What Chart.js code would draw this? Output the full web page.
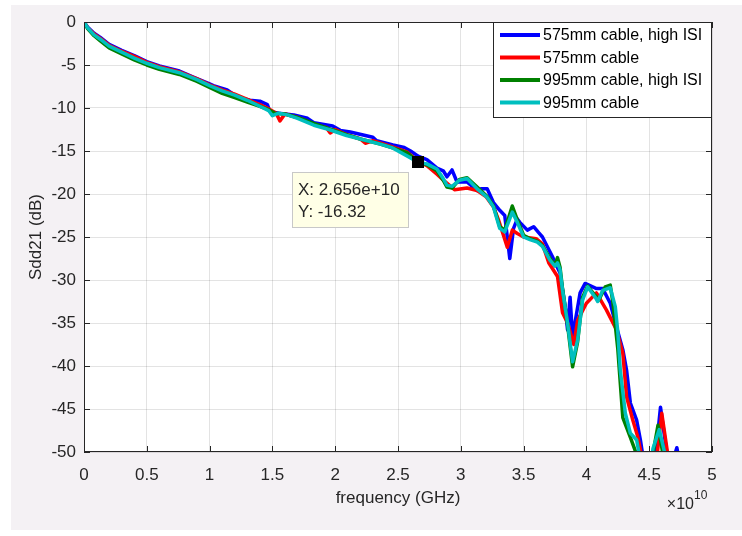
<!DOCTYPE html>
<html>
<head>
<meta charset="utf-8">
<script src="https://cdn.jsdelivr.net/npm/chart.js@4.4.1/dist/chart.umd.min.js"></script>
<style>
  html, body { margin: 0; padding: 0; background: #fff; }
  canvas { display: block; }
</style>
</head>
<body>
<canvas id="sddChart" width="742" height="536"></canvas>
<script>
// frequencies are in units of 1e10 Hz (axis shows "x10^10")
const xTicks = [0, 0.5, 1, 1.5, 2, 2.5, 3, 3.5, 4, 4.5, 5];
const yTicks = [0, -5, -10, -15, -20, -25, -30, -35, -40, -45, -50];

const seriesNames = ["575mm cable, high ISI", "575mm cable", "995mm cable, high ISI", "995mm cable"];
const seriesColors = ["#0000ff", "#ff0000", "#008000", "#00bfbf"];

// 575mm cable, high ISI
const freqBlue = [0, 0.03, 0.08, 0.13, 0.2, 0.3, 0.4, 0.5, 0.6, 0.76, 0.87, 1.0, 1.03, 1.14, 1.22, 1.32, 1.4, 1.46, 1.48, 1.55, 1.67, 1.78, 1.83, 1.98, 2.04, 2.12, 2.3, 2.33, 2.46, 2.55, 2.6, 2.66, 2.73, 2.81, 2.86, 2.89, 2.93, 2.97, 3.05, 3.13, 3.16, 3.21, 3.26, 3.31, 3.35, 3.39, 3.42, 3.45, 3.47, 3.53, 3.58, 3.62, 3.65, 3.73, 3.79, 3.83, 3.85, 3.87, 3.89, 3.95, 3.99, 4.08, 4.13, 4.19, 4.24, 4.29, 4.32, 4.35, 4.40, 4.43, 4.45, 4.5, 4.55, 4.59, 4.63, 4.66, 4.70, 4.72, 4.74, 4.76];
const sddBlue = [0, -0.6, -1.3, -1.8, -2.6, -3.3, -3.9, -4.6, -5.1, -5.7, -6.4, -7.2, -7.4, -7.9, -8.7, -9.1, -9.2, -9.6, -10.4, -10.6, -10.8, -11.2, -11.7, -12.1, -12.6, -12.8, -13.4, -13.8, -14.3, -14.6, -15.0, -15.6, -16.0, -17.0, -17.3, -18.0, -17.2, -18.6, -18.6, -19.6, -19.4, -19.4, -21.0, -21.9, -22.5, -27.5, -24.0, -22.9, -23.3, -24.2, -23.8, -24.5, -25.0, -27.3, -29.2, -33.0, -35.8, -32.0, -36.6, -31.5, -30.4, -31.0, -31.0, -32.7, -35.5, -38.1, -40.5, -44.3, -46.3, -48.6, -50.5, -54, -50.5, -44.8, -49.0, -52, -50.5, -49.5, -51, -55];

// 575mm cable
const freqRed = [0, 0.03, 0.08, 0.13, 0.2, 0.3, 0.4, 0.5, 0.6, 0.76, 0.9, 1.0, 1.1, 1.2, 1.3, 1.4, 1.47, 1.53, 1.56, 1.6, 1.7, 1.83, 1.93, 1.96, 2.0, 2.09, 2.2, 2.24, 2.3, 2.45, 2.57, 2.66, 2.73, 2.81, 2.87, 2.95, 3.05, 3.13, 3.2, 3.26, 3.3, 3.37, 3.41, 3.45, 3.5, 3.6, 3.65, 3.7, 3.77, 3.81, 3.85, 3.9, 3.93, 4.0, 4.08, 4.16, 4.24, 4.29, 4.32, 4.37, 4.41, 4.44, 4.5, 4.55, 4.6, 4.65, 4.68];
const sddRed = [0, -0.7, -1.4, -1.9, -2.7, -3.4, -4.0, -4.7, -5.2, -5.8, -6.6, -7.3, -7.9, -8.4, -9.0, -9.6, -10.1, -10.6, -11.5, -10.7, -11.1, -11.9, -12.3, -12.9, -12.5, -13.1, -13.6, -14.1, -13.8, -14.5, -15.1, -16.2, -16.7, -17.7, -18.5, -19.5, -19.3, -19.6, -20.3, -21.5, -23.0, -26.2, -24.2, -24.6, -25.0, -25.2, -25.8, -28.0, -29.6, -33.8, -35.0, -37.5, -34.7, -32.7, -31.5, -33.5, -35.8, -38.5, -43.6, -46.3, -48.3, -50.5, -55, -52, -45.5, -50.5, -55];

// 995mm cable, high ISI
const freqGreen = [0, 0.03, 0.08, 0.13, 0.2, 0.3, 0.4, 0.5, 0.6, 0.76, 0.9, 1.0, 1.1, 1.2, 1.3, 1.4, 1.47, 1.52, 1.6, 1.7, 1.83, 1.95, 2.09, 2.2, 2.36, 2.45, 2.57, 2.66, 2.73, 2.81, 2.86, 2.89, 2.93, 2.99, 3.05, 3.13, 3.21, 3.26, 3.31, 3.35, 3.41, 3.45, 3.5, 3.55, 3.61, 3.65, 3.71, 3.75, 3.77, 3.79, 3.81, 3.85, 3.89, 3.93, 3.97, 4.01, 4.07, 4.1, 4.15, 4.19, 4.21, 4.25, 4.29, 4.35, 4.40, 4.44, 4.5, 4.52, 4.57, 4.61, 4.65];
const sddGreen = [0, -0.8, -1.6, -2.2, -3.0, -3.7, -4.4, -5.0, -5.5, -6.1, -6.9, -7.6, -8.3, -8.8, -9.3, -9.8, -10.2, -10.6, -10.7, -11.1, -11.8, -12.4, -13.1, -13.6, -14.2, -14.6, -15.2, -16.2, -16.6, -17.3, -18.4, -19.2, -19.3, -18.3, -18.1, -19.2, -20.3, -21.4, -23.8, -24.2, -21.4, -23.0, -24.8, -25.2, -25.5, -26.0, -27.5, -28.3, -27.4, -28.5, -31.0, -35.2, -40.1, -37.2, -32.0, -30.7, -31.8, -32.3, -30.8, -30.6, -32.5, -38.0, -46.0, -48.3, -50.3, -53, -55, -51, -46.9, -50.3, -55];

// 995mm cable
const freqCyan = [0, 0.03, 0.08, 0.13, 0.2, 0.3, 0.4, 0.5, 0.6, 0.76, 0.9, 1.0, 1.1, 1.2, 1.3, 1.4, 1.47, 1.5, 1.55, 1.62, 1.7, 1.83, 1.95, 2.09, 2.2, 2.36, 2.45, 2.6, 2.66, 2.73, 2.81, 2.86, 2.89, 2.93, 2.99, 3.05, 3.13, 3.21, 3.26, 3.31, 3.35, 3.41, 3.45, 3.5, 3.55, 3.61, 3.65, 3.71, 3.75, 3.77, 3.79, 3.81, 3.85, 3.89, 3.93, 3.97, 4.01, 4.07, 4.09, 4.13, 4.19, 4.23, 4.25, 4.27, 4.31, 4.35, 4.40, 4.43, 4.47, 4.51, 4.53, 4.58, 4.63, 4.67];
const sddCyan = [0, -0.7, -1.5, -2.0, -2.8, -3.5, -4.2, -4.8, -5.3, -5.9, -6.7, -7.4, -8.0, -8.5, -9.1, -9.8, -10.3, -10.9, -10.6, -10.8, -11.2, -12.0, -12.5, -13.2, -13.6, -14.2, -14.6, -15.8, -16.3, -16.5, -17.1, -18.2, -19.0, -19.1, -18.4, -18.2, -19.4, -20.4, -21.5, -24.0, -24.4, -22.1, -23.3, -25.0, -25.3, -25.6, -26.1, -27.7, -28.4, -28.0, -28.8, -31.2, -35.0, -39.5, -37.0, -32.3, -30.8, -32.0, -32.5, -31.2, -30.9, -33.1, -36.0, -40.5, -45.5, -47.8, -48.6, -51, -55, -52, -49.6, -47.4, -50.5, -55];

// data tip
const tipFreq = 2.656;
const tipSdd = -16.32;

const freqLists = [freqBlue, freqRed, freqGreen, freqCyan];
const sddLists = [sddBlue, sddRed, sddGreen, sddCyan];

const FONT = "'Liberation Sans', Arial, Helvetica, sans-serif";
const AXIS_COLOR = "#262626";

function toPoints(xs, ys) {
  return xs.map((x, i) => ({ x: x, y: ys[i] }));
}

const datasets = seriesNames.map((name, i) => ({
  label: name,
  data: toPoints(freqLists[i], sddLists[i]),
  borderColor: seriesColors[i],
  backgroundColor: seriesColors[i],
  borderWidth: 3.5,
  pointRadius: 0,
  tension: 0,
  borderJoinStyle: "round",
  order: 4 - i, // last series drawn on top, like matlab
}));

// figure background: gray panel with white axes
const backgroundPlugin = {
  id: "figureBg",
  beforeDraw(chart) {
    const ctx = chart.ctx;
    const a = chart.chartArea;
    ctx.save();
    ctx.fillStyle = "#ffffff";
    ctx.fillRect(0, 0, chart.width, chart.height);
    ctx.fillStyle = "#f4f1f4";
    ctx.fillRect(11, 5, chart.width - 11, 525);
    ctx.fillStyle = "#ffffff";
    ctx.fillRect(a.left, a.top, a.right - a.left, a.bottom - a.top);
    ctx.restore();
  },
};

// box, inward ticks, legend, data tip, exponent
const decorPlugin = {
  id: "decor",
  afterDatasetsDraw(chart) {
    const ctx = chart.ctx;
    const a = chart.chartArea;
    const xs = chart.scales.x;
    const ys = chart.scales.y;
    ctx.save();

    // axes box + ticks on all sides
    ctx.strokeStyle = AXIS_COLOR;
    ctx.lineWidth = 1;
    ctx.strokeRect(a.left + 0.5, a.top + 0.5, a.right - a.left - 1, a.bottom - a.top - 1);
    const tl = 6;
    ctx.beginPath();
    xTicks.forEach((v) => {
      const px = Math.round(xs.getPixelForValue(v)) + 0.5;
      ctx.moveTo(px, a.bottom); ctx.lineTo(px, a.bottom - tl);
      ctx.moveTo(px, a.top); ctx.lineTo(px, a.top + tl);
    });
    yTicks.forEach((v) => {
      const py = Math.round(ys.getPixelForValue(v)) + 0.5;
      ctx.moveTo(a.left, py); ctx.lineTo(a.left + tl, py);
      ctx.moveTo(a.right, py); ctx.lineTo(a.right - tl, py);
    });
    ctx.stroke();

    // legend
    const lx = 493, ly = 22, lw = 219, lh = 96;
    ctx.fillStyle = "#ffffff";
    ctx.fillRect(lx, ly, lw, lh);
    ctx.strokeStyle = "#262626";
    ctx.strokeRect(lx + 0.5, ly + 0.5, lw - 1, lh - 1);
    ctx.font = "16px " + FONT;
    ctx.textBaseline = "middle";
    ctx.textAlign = "left";
    chart.data.datasets.forEach((ds, i) => {
      const rowY = ly + 13 + i * 22.5;
      ctx.strokeStyle = ds.borderColor;
      ctx.lineWidth = 4;
      ctx.beginPath();
      ctx.moveTo(lx + 7, rowY);
      ctx.lineTo(lx + 47, rowY);
      ctx.stroke();
      ctx.fillStyle = "#000000";
      ctx.fillText(ds.label, lx + 50, rowY + 1);
    });

    // data tip
    const mx = xs.getPixelForValue(tipFreq);
    const my = ys.getPixelForValue(tipSdd);
    const bx = Math.round(mx) - 126, by = Math.round(my) + 10;
    ctx.fillStyle = "#ffffe6";
    ctx.fillRect(bx, by, 117, 56);
    ctx.strokeStyle = "#c8c8c8";
    ctx.lineWidth = 1;
    ctx.strokeRect(bx + 0.5, by + 0.5, 116, 55);
    ctx.fillStyle = "#262626";
    ctx.font = "17px " + FONT;
    ctx.fillText("X: " + (tipFreq * 1e10).toExponential(3), bx + 6, by + 18);
    ctx.fillText("Y: " + tipSdd.toFixed(2), bx + 6, by + 40);
    ctx.fillStyle = "#000000";
    ctx.fillRect(Math.round(mx) - 6, Math.round(my) - 6, 12, 12);

    // x10^10 exponent label
    ctx.fillStyle = AXIS_COLOR;
    ctx.textAlign = "right";
    ctx.font = "16px " + FONT;
    ctx.fillText("\u00d710", a.right - 18, a.bottom + 53);
    ctx.textAlign = "left";
    ctx.font = "12px " + FONT;
    ctx.fillText("10", a.right - 18, a.bottom + 44);

    ctx.restore();
  },
};

const ctx = document.getElementById("sddChart").getContext("2d");
const sddChart = new Chart(ctx, {
  type: "line",
  data: { datasets: datasets },
  options: {
    responsive: false,
    animation: false,
    devicePixelRatio: 1,
    layout: { padding: { left: 0, right: 30, top: 22, bottom: 0 } },
    plugins: {
      legend: { display: false },
      tooltip: { enabled: false },
    },
    scales: {
      x: {
        type: "linear",
        min: 0,
        max: 5,
        afterFit(scale) { scale.height = 84; },
        afterBuildTicks(scale) { scale.ticks = xTicks.map((v) => ({ value: v })); },
        grid: { color: "rgba(38,38,38,0.13)", drawTicks: false },
        border: { display: false },
        ticks: {
          color: AXIS_COLOR,
          padding: 13,
          maxRotation: 0,
          font: { family: FONT, size: 17 },
          callback: (v) => String(v),
        },
        title: {
          display: true,
          text: "frequency (GHz)",
          color: AXIS_COLOR,
          font: { family: FONT, size: 17 },
          padding: { top: 0, bottom: 27 },
        },
      },
      y: {
        type: "linear",
        min: -50,
        max: 0,
        afterFit(scale) { scale.width = 84; },
        afterBuildTicks(scale) { scale.ticks = yTicks.map((v) => ({ value: v })); },
        grid: { color: "rgba(38,38,38,0.13)", drawTicks: false },
        border: { display: false },
        ticks: {
          color: AXIS_COLOR,
          padding: 8,
          font: { family: FONT, size: 17 },
          callback: (v) => String(v),
        },
        title: {
          display: true,
          text: "Sdd21 (dB)",
          color: AXIS_COLOR,
          font: { family: FONT, size: 17 },
          padding: { top: 26, bottom: 0 },
        },
      },
    },
  },
  plugins: [backgroundPlugin, decorPlugin],
});
</script>
</body>
</html>
